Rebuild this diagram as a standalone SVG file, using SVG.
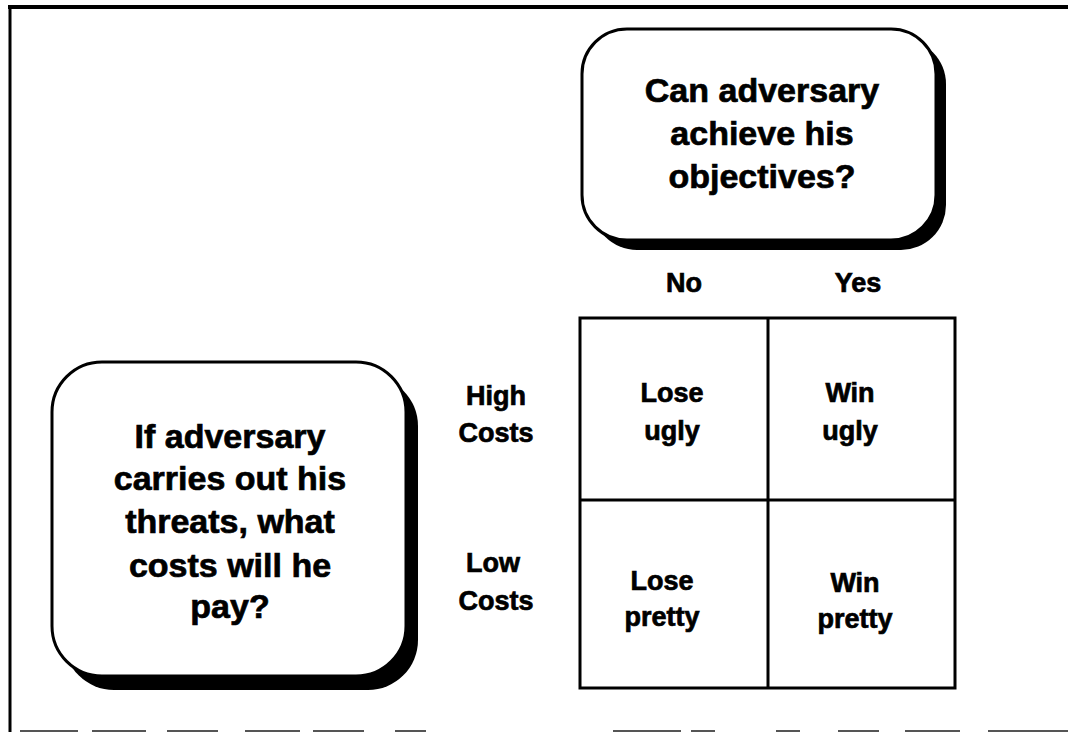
<svg xmlns="http://www.w3.org/2000/svg" width="1068" height="732" viewBox="0 0 1068 732">
<style>
.t{font-family:"Liberation Sans",Arial,sans-serif;font-weight:bold;fill:#000;stroke:#000;stroke-width:0.7;text-anchor:middle}
.big{font-size:34px}
.mid{font-size:27px}
.box{fill:#fff;stroke:#000;stroke-width:3}
.sh{fill:#000}
.grid{fill:none;stroke:#000;stroke-width:3}
</style>
<rect width="1068" height="732" fill="#fff"/>
<g id="frame">
<line x1="8" y1="7" x2="1068" y2="7" stroke="#000" stroke-width="4"/>
<line x1="10" y1="5" x2="10" y2="732" stroke="#000" stroke-width="3"/>
<path d="M20 731H78M92 731H146M167 731H218M245 731H300M313 731H364M395 731H426M613 731H681M691 731H715M776 731H800M838 731H879M905 731H960M988 731H1068" stroke="#555" stroke-width="2"/>
</g>
<g id="node-objectives">
<rect class="sh" x="592" y="39" width="354" height="211" rx="45"/>
<rect class="box" x="582" y="29" width="354" height="211" rx="45"/>
<text class="t big" x="762" y="102">Can adversary</text>
<text class="t big" x="762" y="145">achieve his</text>
<text class="t big" x="762" y="188">objectives?</text>
</g>
<g id="node-costs">
<rect class="sh" x="64" y="376" width="354" height="314" rx="50"/>
<rect class="box" x="52" y="362" width="354" height="314" rx="50"/>
<text class="t big" x="230" y="448">If adversary</text>
<text class="t big" x="230" y="490">carries out his</text>
<text class="t big" x="230" y="533">threats, what</text>
<text class="t big" x="230" y="577">costs will he</text>
<text class="t big" x="230" y="618">pay?</text>
</g>
<g id="labels">
<text class="t mid" x="684" y="292">No</text>
<text class="t mid" x="858" y="292">Yes</text>
<text class="t mid" x="496" y="405">High</text>
<text class="t mid" x="496" y="442">Costs</text>
<text class="t mid" x="493" y="572">Low</text>
<text class="t mid" x="496" y="610">Costs</text>
</g>
<g id="grid">
<rect class="grid" x="580" y="318" width="375" height="370"/>
<line class="grid" x1="768" y1="318" x2="768" y2="688"/>
<line class="grid" x1="580" y1="500" x2="955" y2="500"/>
</g>
<g id="cell-lose-ugly">
<text class="t mid" x="672" y="402">Lose</text>
<text class="t mid" x="672" y="440">ugly</text>
</g>
<g id="cell-win-ugly">
<text class="t mid" x="850" y="402">Win</text>
<text class="t mid" x="850" y="440">ugly</text>
</g>
<g id="cell-lose-pretty">
<text class="t mid" x="662" y="590">Lose</text>
<text class="t mid" x="662" y="626">pretty</text>
</g>
<g id="cell-win-pretty">
<text class="t mid" x="855" y="592">Win</text>
<text class="t mid" x="855" y="628">pretty</text>
</g>
<g id="connectors"/>
</svg>
